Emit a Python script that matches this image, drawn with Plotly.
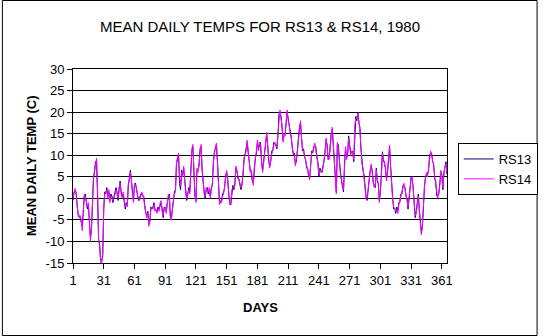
import plotly.graph_objects as go

days = list(range(1, 367))

rs14 = [
    0, 1, 2.3, 1, -1, -4, -4.5, -4, -5, -7.5,
    -3, 1, 0.5, -1, -2, -1, -7, -10, -7, 1.5,
    5, 6, 8, 9.3, 2, -10, -10.5, -15, -15, -13.5,
    -2, 1, 1.5, 2, 0, 2, -1, 0.5, 0, -0.5,
    0, 1, 2, 1, 0, 2.5, 3.5, 1, 0, 1.5,
    -1, -2, -1.5, -2, 3.5, 4, 6, 4.5, 1, -1,
    3.5, 3, 2.5, 0.5, 0, -0.5, 0.5, 1.5, 1, 0,
    -2, -3, -4.5, -3.5, -6.5, -5, -2.5, -2, -2.5, -1.5,
    -3, -2.5, -3.5, -2.5, -3, -1, -0.5, -3, -4, -2.5,
    -2, -3.5, -1.5, 1, 0.5, -4, -5, -2, -0.5, 1,
    1.5, 8.5, 10, 10.5, 5, 3, 6, 5, 7.5, 4,
    1, 0, 1.5, 2, 1, 7, 11.5, 12.5, 6, 1,
    -1, 7,
    6, 8, 11, 12.5, 7, 3, 1, 0.5, 2.5, 2,
    1.5, 2.5, 0, 2, 3.5, 8.5, 10.5, 12, 12.8, 8,
    2, -1.5, -0.5, -1, 0.5, 1, 3, 5, 6.5, 4,
    1.5, -1.5, -1, 2, 2.5, 2.5, 3, 7.5, 6, 5,
    4, 3.5, 2.5, 3, 6, 9.5, 10, 11, 13.5, 10,
    8.5, 6, 6.5, 4.5, 3, 7.5, 9, 11, 13.5, 11,
    13, 12.5, 9, 6, 8, 11, 13, 15.3, 12, 9,
    7, 9, 10.5, 11.5, 12.5, 13, 12, 12, 15, 19,
    20.5, 18.5, 17, 13, 15, 14.5, 18, 20.5, 18, 17,
    15, 14.5, 11.5, 10.5, 10, 7.5, 9, 11, 13.5, 16,
    18, 14, 11.5, 11, 10, 8.5, 7.5, 6.5, 5.5, 4.3,
    8, 10.5, 11, 11.5, 12.8, 11.5, 10, 8, 5.5, 6.5,
    6,
    6.5, 7, 9, 10.5, 14, 12, 9.5, 9, 13, 14.5,
    16.5, 12, 8, 4, 1, 13, 12, 9, 5, 4.5,
    2.5, 2, 7.5, 12, 9, 10.5, 14, 12, 10, 11,
    10.5, 9, 17, 18.5, 18.5, 19.8, 18, 16, 12, 8,
    7, 5, 2.5, 0, 0, 1.5, 4, 6, 8, 6,
    4, 2.5, 3, 6.5, 4.5, 3, -1, 2, 5, 10.3,
    9,
    8, 7, 4, 6.5, 10, 12.3, 7, 3, -0.5, -2,
    -2.7, -3, -2.5, -3.5, -1.5, -0.5, 0.5, 1.5, 2.5, 3.5,
    2, 1, -0.5, -2, 0, 2.5, 4.5, 5, 2, -1,
    -4, -3.5, -1, 0.5, -3, -5.5, -8.5, -6, 0, 3,
    4.5, 6, 5, 7, 9.5, 11, 10, 9, 7.5, 5,
    3.5, 1, 0, 1.5, 3, 6.5, 5, 2.5, 5.5, 7.5,
    8, 6,
]

rs13 = [
    -0.5, 1.5, 1.8, 1.5, -1.5, -3.5, -4, -4.5, -5.5, -6.5,
    -3.5, 0.5, 1, -1.5, -2.5, -1.5, -6, -9, -7.5, 1,
    4.5, 6.5, 8.5, 8.8, 1.5, -9.5, -11, -14.5, -14.5, -13,
    -2.5, 1.5, 1, 2.5, 0.5, 1.5, -0.5, 1, 0.5, -1,
    0.5, 1.5, 2.5, 1.5, -0.5, 2, 4, 1.5, 0.5, 1,
    -1.5, -2.5, -1, -1.5, 3, 4.5, 6.5, 4, 1.5, -0.5,
    3, 3.5, 2, 1, -0.5, 0, 1, 1, 0.5, 0.5,
    -1.5, -3.5, -4, -3, -6, -5.5, -2, -2.5, -2, -1,
    -2.5, -3, -3, -2, -2.5, -1.5, -1, -2.5, -4.5, -2,
    -2.5, -3, -1, 0.5, 1, -4.5, -4.5, -2.5, 0, 1.5,
    2, 8, 9, 10, 3.5, 2, 6.5, 5.5, 7, 4.5,
    1.5, -0.5, 1, 2.5, 1.5, 6.5, 11, 12, 6.5, 0.5,
    -0.5, 6.5,
    6.5, 7.5, 11.5, 12, 6.5, 3.5, 1.5, 0, 2, 2.5,
    1, 2, 0.5, 2.5, 3, 8, 11, 11.5, 12.3, 8.5,
    2.5, -1, -1, -0.5, 1, 1.5, 2.5, 5.5, 6, 4.5,
    1, -1, -1.5, 1.5, 3, 2, 3.5, 7, 6.5, 4.5,
    4.5, 3, 2, 3.5, 5.5, 9, 10.5, 11.5, 13, 10.5,
    8, 6.5, 6, 4, 3.5, 7, 9.5, 10.5, 13, 11.5,
    12.5, 13, 8.5, 6.5, 8.5, 10.5, 13.5, 14.8, 12.5, 8.5,
    7.5, 8.5, 11, 11, 13, 12.5, 12.5, 11.5, 14.5, 19.5,
    20, 19, 16.5, 13.5, 14.5, 15, 17.5, 20, 18.5, 16.5,
    15.5, 14, 12, 10, 10.5, 8, 8.5, 11.5, 13, 16.5,
    17.5, 14.5, 11, 11.5, 9.5, 9, 7, 7, 5, 4.8,
    7.5, 11, 10.5, 12, 12.3, 12, 9.5, 8.5, 5, 7,
    6.5,
    6, 7.5, 8.5, 11, 13.5, 12.5, 9, 9.5, 12.5, 15,
    16, 12.5, 7.5, 4.5, 1.5, 12.5, 12.5, 8.5, 5.5, 4,
    3, 1.5, 8, 11.5, 9.5, 10, 14.5, 11.5, 10.5, 10.5,
    11, 8.5, 16.5, 19, 18, 20, 17.5, 16.5, 11.5, 8.5,
    6.5, 5.5, 2, 0.5, -0.5, 2, 3.5, 6.5, 7.5, 6.5,
    3.5, 3, 2.5, 7, 4, 3.5, -0.5, 1.5, 5.5, 10.8,
    8.5,
    8.5, 6.5, 4.5, 6, 10.5, 11.8, 7.5, 2.5, 0, -2.5,
    -2.2, -3.5, -2, -3, -1, -1, 1, 1, 3, 3,
    2.5, 0.5, 0, -2.5, 0.5, 2, 5, 4.5, 2.5, -1.5,
    -4.5, -3, -1.5, 1, -2.5, -6, -8, -6.5, 0.5, 2.5,
    5, 5.5, 5.5, 6.5, 10, 10.5, 10.5, 8.5, 8, 4.5,
    4, 0.5, 0.5, 1, 3.5, 6, 5.5, 2, 6, 7,
    8.5, 5.5,
]

x_ticks = [1, 31, 61, 91, 121, 151, 181, 211, 241, 271, 301, 331, 361]
y_ticks = [-15, -10, -5, 0, 5, 10, 15, 20, 25, 30]

FONT = "Liberation Sans, Arial, sans-serif"
W, H = 550, 336
L, R, T, B = 73, 93, 69, 73
PW, PH = W - L - R, H - T - B

fig = go.Figure()
fig.add_trace(go.Scatter(x=days, y=rs13, mode="lines", name="RS13",
                         line=dict(color="#000080", width=1)))
fig.add_trace(go.Scatter(x=days, y=rs14, mode="lines", name="RS14",
                         line=dict(color="#FF00FF", width=1)))

fig.update_layout(
    width=W, height=H,
    margin=dict(l=L, r=R, t=T, b=B, pad=0),
    paper_bgcolor="white", plot_bgcolor="white",
    font=dict(family=FONT, size=13, color="black"),
    title=dict(text="MEAN DAILY TEMPS FOR RS13 & RS14, 1980",
               x=260 / W, xref="container", xanchor="center",
               y=1 - 27 / H, yref="container", yanchor="middle",
               font=dict(family=FONT, size=15, color="black")),
    showlegend=True,
    legend=dict(x=(468 - L) / PW, xanchor="left",
                y=(H - B - 169) / PH, yanchor="middle",
                bordercolor="black", borderwidth=1, bgcolor="white",
                font=dict(family=FONT, size=13, color="black"),
                itemwidth=30, tracegroupgap=0),
    xaxis=dict(range=[1, 366], tickmode="array", tickvals=x_ticks,
               ticktext=[str(v) for v in x_ticks],
               showgrid=False, zeroline=False,
               showline=True, linecolor="black", linewidth=1, mirror=True,
               ticks="outside", ticklen=5, tickcolor="black", tickwidth=1,
               tickfont=dict(family=FONT, size=13, color="black")),
    yaxis=dict(range=[-15, 30], tickmode="array", tickvals=y_ticks,
               ticktext=[str(v) for v in y_ticks],
               showgrid=True, gridcolor="black", gridwidth=1, zeroline=False,
               showline=True, linecolor="black", linewidth=1, mirror=True,
               ticks="outside", ticklen=5, tickcolor="black", tickwidth=1,
               tickfont=dict(family=FONT, size=13, color="black")),
    annotations=[
        dict(text="<b>MEAN DAILY TEMP (C)</b>", textangle=-90,
             x=(30 - L) / PW, y=0.5, xref="paper", yref="paper",
             xanchor="center", yanchor="middle", showarrow=False,
             font=dict(family=FONT, size=13, color="black")),
        dict(text="<b>DAYS</b>",
             x=(265 - L) / PW, y=-(307 - (H - B)) / PH, xref="paper", yref="paper",
             xanchor="center", yanchor="middle", showarrow=False,
             font=dict(family=FONT, size=13, color="black")),
    ],
    shapes=[
        dict(type="rect", xref="paper", yref="paper",
             x0=(0.5 - L) / PW, x1=(W - 0.5 - L) / PW,
             y0=-(H - 0.5 - (H - B)) / PH, y1=(H - B - 0.5) / PH,
             line=dict(color="black", width=1), fillcolor="rgba(0,0,0,0)",
             layer="below"),
    ],
)

fig.write_html("out.html")
